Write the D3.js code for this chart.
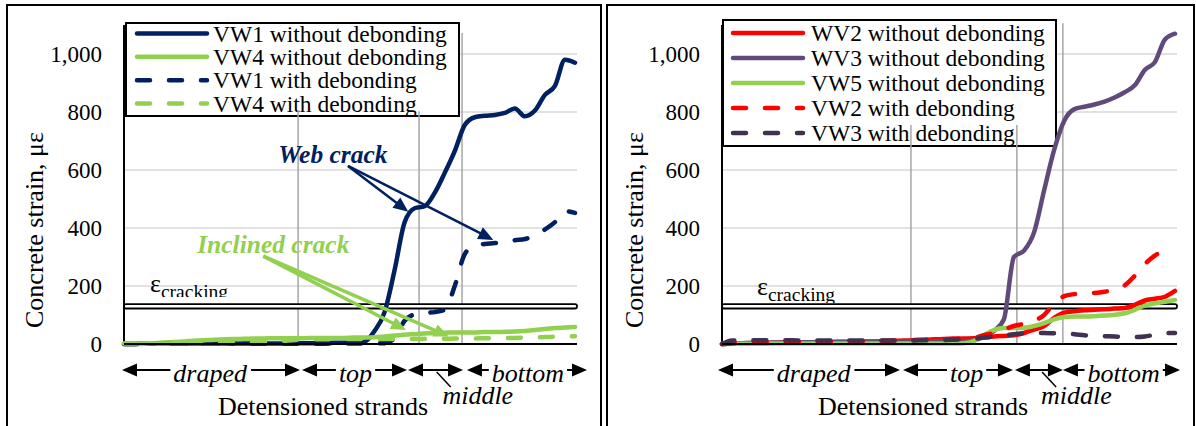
<!DOCTYPE html>
<html>
<head>
<meta charset="utf-8">
<script src="https://cdn.jsdelivr.net/npm/d3@7"></script>
<style>
  body { margin: 0; background: #fff; }
  text { font-family: "Liberation Serif", "Times New Roman", serif; fill: #000; }
</style>
</head>
<body>
<svg id="chart" width="1196" height="426"></svg>
<script>
// ---- data -------------------------------------------------------------
const strands = d3.range(46);               // detensioning step index
const yTicks = [0, 200, 400, 600, 800, 1000];
const crackingStrain = 130;                 // με

// Left panel: VW1 / VW4
const vw1NoDebond = [0,0,1,1,1,2,2,2,2,2, 2,2,2,2,2,2,2,2,3,3,
  3,4,4,5,8,45,110,255,420,468, 475,521,590,665,755,782,787,790,797,812,
  785,805,859,890,980,970];
const vw4NoDebond = [0,0,1,3,5,7,9,11,13,15, 16,17,18,19,19,20,20,20,20,21,
  21,21,21,22,22,23,26,29,32,34, 36,38,39,40,40,40,41,41,42,43,
  45,48,52,55,57,59];
const vw1Debond = [0,0,1,1,1,1,1,1,1,1, 1,1,1,1,1,1,1,1,1,1,
  1,2,2,2,2,2,3,20,80,102, 107,110,118,200,310,340,345,348,352,358,
  362,375,395,420,458,452];
const vw4Debond = [2,2,2,2,2,2,3,3,3,3, 3,4,4,5,6,8,11,14,16,16,
  16,16,17,17,17,17,17,17,17,17, 18,18,18,19,19,19,20,20,21,21,
  22,23,24,25,26,27];

// Right panel: WV2 / WV3 / VW5
const wv2NoDebond = [0,1,2,3,3,4,5,5,6,6, 7,7,8,8,9,9,10,11,12,13,
  14,16,17,18,19,20,22,26,28,30, 38,50,62,90,108,113,116,118,120,122,
  124,135,150,156,163,183];
const wv3NoDebond = [0,2,3,4,4,5,5,5,6,6, 6,7,7,7,8,8,8,8,9,9,
  9,9,10,10,10,12,25,45,85,300, 322,385,530,670,770,810,818,826,836,850,
  868,892,945,972,1050,1070];
const vw5NoDebond = [0,1,1,1,2,2,2,2,2,2, 2,2,2,2,2,2,2,2,2,2,
  2,2,2,2,3,10,30,48,55,55, 56,62,72,85,93,95,95,96,98,101,
  106,118,132,140,146,152];
const vw2Debond = [0,2,3,4,5,5,6,6,7,7, 8,8,9,9,10,10,11,12,13,14,
  15,16,17,18,20,22,30,38,50,62, 70,80,100,140,165,172,175,176,180,188,
  202,235,275,305,322,330];
const vw3Debond = [0,12,13,13,13,13,13,13,12,12, 12,12,12,12,12,12,12,12,12,12,
  13,13,14,15,16,18,22,25,30,34, 37,38,38,37,36,34,30,28,27,26,
  24,24,26,32,37,38];

// Section boundaries (strand index) and the height each guide line reaches (με)
const leftDividers  = [{ at: 17.37, top: 805 }, { at: 29.44, top: 803 }, { at: 33.73, top: 1072 }];
const rightDividers = [{ at: 18.77, top: 755 }, { at: 29.29, top: 755 }, { at: 33.86, top: 1106 }];

// Strand groups along the horizontal axis (strand index)
const leftGroups = [
  { label: "draped", from: -0.2, to: 17.56, labelAt: 8.6 },
  { label: "top",    from: 17.76, to: 28.24, labelAt: 23.1 },
  { label: "middle", from: 28.34, to: 33.83, below: true, labelAt: 35.3, leaderAt: 31.2 },
  { label: "bottom", from: 34.22, to: 46.2, labelAt: 40.3 }
];
const rightGroups = [
  { label: "draped", from: -0.4, to: 17.68, labelAt: 9.1 },
  { label: "top",    from: 17.98, to: 28.9, labelAt: 24.3 },
  { label: "middle", from: 29.1, to: 33.87, below: true, labelAt: 35.2, leaderAt: 31.8 },
  { label: "bottom", from: 33.87, to: 45.5, labelAt: 39.9 }
];

// Crack call-outs on the left panel (strand index, με)
const callouts = [
  { text: "Web crack", color: "#002060", width: 2.5, textAt: [15.4, 624], from: [22.35, 614],
    tips: [[28.37, 456], [36.85, 359]] },
  { text: "Inclined crack", color: "#92D050", width: 3.5, textAt: [7.3, 314], from: [13.9, 303],
    tips: [[28.14, 48], [32.4, 26]] }
];

const C = { navy: "#002060", green: "#92D050", red: "#FF0000", purple: "#604A7B", plum: "#403151" };

const panels = [
  {
    frame: [7, 594], axisX: 124, dataEnd: 575, titleX: 43, xTitleCenter: 323,
    legend: { x: 126, y: 23, w: 333, h: 93, rows: [33.5, 56.8, 80.2, 103.5], sampleX: 137, textX: 213 },
    eps: { x: 150, y: 292, clip: 297 },
    series: [
      { name: "VW1 without debonding", values: vw1NoDebond, color: C.navy, dashed: false },
      { name: "VW4 without debonding", values: vw4NoDebond, color: C.green, dashed: false },
      { name: "VW1 with debonding", values: vw1Debond, color: C.navy, dashed: true },
      { name: "VW4 with debonding", values: vw4Debond, color: C.green, dashed: true }
    ],
    dividers: leftDividers, groups: leftGroups, callouts: callouts
  },
  {
    frame: [607, 587], axisX: 722, dataEnd: 1175, titleX: 643, xTitleCenter: 923,
    legend: { x: 723, y: 20, w: 333, h: 126, rows: [33, 58, 83, 108, 133], sampleX: 733, textX: 811 },
    eps: { x: 757, y: 295, clip: 303 },
    series: [
      { name: "WV2 without debonding", values: wv2NoDebond, color: C.red, dashed: false },
      { name: "WV3 without debonding", values: wv3NoDebond, color: C.purple, dashed: false },
      { name: "VW5 without debonding", values: vw5NoDebond, color: C.green, dashed: false },
      { name: "VW2 with debonding", values: vw2Debond, color: C.red, dashed: true },
      { name: "VW3 with debonding", values: vw3Debond, color: C.plum, dashed: true }
    ],
    dividers: rightDividers, groups: rightGroups, callouts: []
  }
];

// ---- drawing ------------------------------------------------------------
const svg = d3.select("#chart");
const fmt = d3.format(",");
const DASH = "13,19";

function arrowHead(g, tx, ty, ang, len, half, color) {
  const c = Math.cos(ang), s = Math.sin(ang);
  const bx = tx - c * len, by = ty - s * len;
  g.append("path")
    .attr("d", `M${tx},${ty}L${bx - s * half},${by + c * half}L${bx + s * half},${by - c * half}Z`)
    .attr("fill", color);
}

panels.forEach((p, pi) => {
  const x = d3.scaleLinear().domain([0, strands.length - 1]).range([p.axisX, p.dataEnd]);
  const y = d3.scaleLinear().domain([0, 1100]).range([344, 25]);
  const gridEnd = p.dataEnd + 2;
  const g = svg.append("g");

  // panel frame
  g.append("rect").attr("x", p.frame[0]).attr("y", 5).attr("width", p.frame[1]).attr("height", 440)
    .attr("fill", "none").attr("stroke", "#000").attr("stroke-width", 2);

  // horizontal gridlines
  g.append("g").selectAll("line").data(yTicks.filter(d => d > 0)).join("line")
    .attr("x1", p.axisX).attr("x2", gridEnd).attr("y1", d => y(d)).attr("y2", d => y(d))
    .attr("stroke", "#d9d9d9").attr("stroke-width", 1.5);

  // y axis labels
  const ax = g.append("g").attr("transform", `translate(${p.axisX},0)`)
    .call(d3.axisLeft(y).tickValues(yTicks).tickFormat(fmt).tickSize(0).tickPadding(22));
  ax.select(".domain").remove();
  ax.attr("font-family", null).attr("font-size", null);
  ax.selectAll("text").attr("font-size", 23).attr("fill", "#000")
    .style("font-family", '"Liberation Serif", serif');

  // axis lines
  g.append("line").attr("x1", p.axisX).attr("x2", p.axisX).attr("y1", y(0)).attr("y2", 25)
    .attr("stroke", "#000").attr("stroke-width", 2);

  // legend
  const L = p.legend;
  const lg = g.append("g");
  lg.append("rect").attr("x", L.x).attr("y", L.y).attr("width", L.w).attr("height", L.h)
    .attr("fill", "#fff").attr("stroke", "#000").attr("stroke-width", 2);
  p.series.forEach((s, i) => {
    const ry = L.rows[i];
    lg.append("line").attr("x1", L.sampleX).attr("x2", L.sampleX + 70).attr("y1", ry).attr("y2", ry)
      .attr("stroke", s.color).attr("stroke-width", 4.5).attr("stroke-linecap", "round")
      .attr("stroke-dasharray", s.dashed ? DASH : null);
    lg.append("text").attr("x", L.textX).attr("y", ry + 8).attr("font-size", 23.5).text(s.name);
  });

  // section guide lines
  g.append("g").selectAll("line").data(p.dividers).join("line")
    .attr("x1", d => x(d.at)).attr("x2", d => x(d.at)).attr("y1", y(0)).attr("y2", d => y(d.top))
    .attr("stroke", "#a6a6a6").attr("stroke-width", 1.5);

  // cracking strain band
  g.append("rect").attr("x", p.axisX).attr("y", y(crackingStrain) - 2.2).attr("width", gridEnd - p.axisX)
    .attr("height", 4.4).attr("rx", 2).attr("fill", "#fff").attr("stroke", "#000").attr("stroke-width", 1.8);

  const clipId = "epsclip" + pi;
  svg.append("clipPath").attr("id", clipId).append("rect")
    .attr("x", p.eps.x - 5).attr("y", p.eps.y - 40).attr("width", 140).attr("height", p.eps.clip - (p.eps.y - 40));
  const eps = g.append("text").attr("clip-path", `url(#${clipId})`)
    .attr("x", p.eps.x).attr("y", p.eps.y).attr("font-size", 26).text("ε");
  eps.append("tspan").attr("font-size", 19.5).attr("dy", 6).text("cracking");

  // strain curves
  const line = d3.line().x((d, i) => x(i)).y(d => y(d)).curve(d3.curveMonotoneX);
  p.series.forEach(s => {
    g.append("path").attr("d", line(s.values)).attr("fill", "none")
      .attr("stroke", s.color).attr("stroke-width", 4.5)
      .attr("stroke-linecap", "round").attr("stroke-linejoin", "round")
      .attr("stroke-dasharray", s.dashed ? DASH : null);
  });

  // x axis line
  g.append("line").attr("x1", p.axisX).attr("x2", gridEnd).attr("y1", y(0)).attr("y2", y(0))
    .attr("stroke", "#000").attr("stroke-width", 2);

  // crack call-outs
  p.callouts.forEach(c => {
    const ox = x(c.from[0]), oy = y(c.from[1]);
    c.tips.forEach(t => {
      const tx = x(t[0]), ty = y(t[1]);
      const ang = Math.atan2(ty - oy, tx - ox);
      g.append("line").attr("x1", ox).attr("y1", oy)
        .attr("x2", tx - Math.cos(ang) * 12).attr("y2", ty - Math.sin(ang) * 12)
        .attr("stroke", c.color).attr("stroke-width", c.width);
      arrowHead(g, tx, ty, ang, 15, 6.5, c.color);
    });
    g.append("text").attr("x", x(c.textAt[0])).attr("y", y(c.textAt[1]))
      .attr("font-size", 25.5).attr("font-weight", "bold").attr("font-style", "italic")
      .style("fill", c.color).text(c.text);
  });

  // strand groups beneath the axis
  const rowY = 370;
  p.groups.forEach(gr => {
    const xa = x(gr.from), xb = x(gr.to);
    g.append("line").attr("x1", xa + 10).attr("x2", xb - 10).attr("y1", rowY).attr("y2", rowY)
      .attr("stroke", "#000").attr("stroke-width", 2);
    arrowHead(g, xa, rowY, Math.PI, 15, 6.5, "#000");
    arrowHead(g, xb, rowY, 0, 15, 6.5, "#000");
    if (gr.below) {
      const lx = x(gr.leaderAt);
      g.append("line").attr("x1", lx).attr("y1", rowY + 2).attr("x2", lx + 14).attr("y2", rowY + 17)
        .attr("stroke", "#000").attr("stroke-width", 1.5);
      g.append("text").attr("x", x(gr.labelAt)).attr("y", 404).attr("text-anchor", "middle")
        .attr("font-size", 26).attr("font-style", "italic").text(gr.label);
    } else {
      const t = g.append("text").attr("x", x(gr.labelAt)).attr("y", 382).attr("text-anchor", "middle")
        .attr("font-size", 26).attr("font-style", "italic").text(gr.label);
      const bb = t.node().getBBox();
      g.insert("rect", () => t.node()).attr("x", bb.x - 3).attr("width", bb.width + 6)
        .attr("y", rowY - 4).attr("height", 8).attr("fill", "#fff");
    }
  });

  // axis titles
  g.append("text").attr("transform", `translate(${p.titleX},230) rotate(-90)`)
    .attr("text-anchor", "middle").attr("font-size", 26).text("Concrete strain, με");
  g.append("text").attr("x", p.xTitleCenter).attr("y", 415).attr("text-anchor", "middle")
    .attr("font-size", 26).text("Detensioned strands");
});
</script>
</body>
</html>
